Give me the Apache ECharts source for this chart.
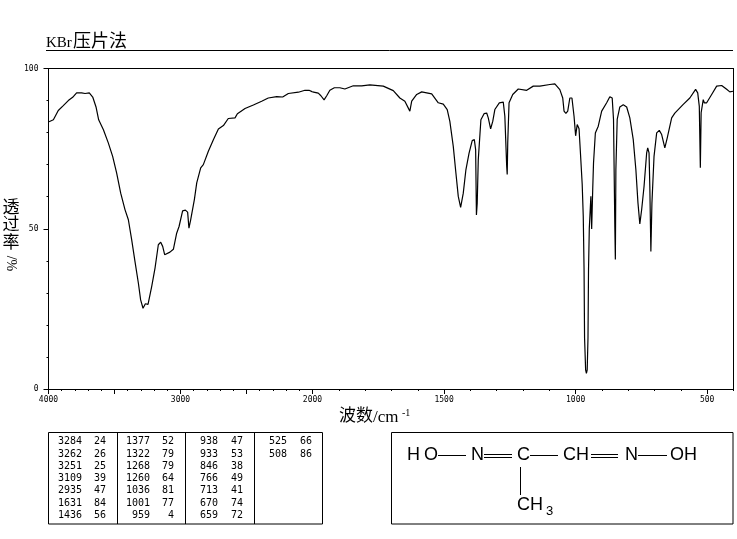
<!DOCTYPE html>
<html>
<head>
<meta charset="utf-8">
<title>KBr</title>
<script src="https://cdn.jsdelivr.net/npm/echarts@6/dist/echarts.min.js"></script>
<style>
html,body{margin:0;padding:0;background:#fff;}
#irChart{width:737px;height:539px;}
</style>
</head>
<body>
<div id="irChart"></div>
<script>
// the spectrum scale changes at 2000 cm-1, so high and low parts are kept apart
var highWave = [3996,3963,3926,3888,3850,3817,3787,3749,3723,3691,3665,3640,3620,3584,3547,3514,3484,3453,3420,3395,3370,3345,3319,3302,3284,3266,3246,3218,3193,3168,3150,3135,3120,3105,3080,3054,3029,3011,2984,2963,2946,2936,2923,2895,2877,2847,2827,2789,2751,2713,2675,2638,2587,2569,2511,2448,2385,2335,2271,2226,2183,2107,2057,2026,2000];
var highTrans = [83.4,84,86.9,88.4,90,91,92.4,92.4,92.2,92.4,91.1,88,84,80.9,76.8,72.6,67.4,61.1,55.9,52.8,46.6,39.8,33,27.8,25.2,26.6,26.4,32,37.7,45,45.8,44.5,41.9,41.9,42.7,43.6,48.6,50.7,55.6,55.8,55.2,50.2,52.8,59.1,64.3,69,70,74.2,77.8,81.1,82.2,84.4,84.6,85.9,87.5,88.6,89.8,90.8,91.2,91.1,92.2,92.6,93.2,93.2,92.7];
var lowWave = [2000,1997,1978,1968,1956,1946,1934,1917,1896,1877,1845,1813,1782,1731,1693,1668,1649,1630,1623,1604,1585,1547,1522,1503,1488,1478,1465,1455,1446,1437,1427,1417,1405,1393,1385,1380,1377,1374,1370,1360,1348,1338,1332,1323,1315,1307,1290,1275,1269,1262,1260,1258,1253,1239,1218,1186,1161,1136,1098,1079,1060,1049,1044,1037,1030,1022,1014,1006,1000,994,987,981,975,971,968,966,962,959,956,953,951,948,942,939,935,932,925,914,901,882,870,861,856,851,849,847,842,832,819,806,794,781,771,763,756,749,740,730,726,721,718,714,710,702,692,682,673,661,652,635,623,591,566,544,536,530,526,523,515,511,502,483,464,445,426,414,402];
var lowTrans = [92.7,92.2,92.3,91.5,90.2,91.5,93.2,94,94,93.6,94.6,94.6,94.9,94.5,93.1,90.8,89.8,86.7,89.8,91.9,92.7,92.1,89.3,88.9,87.2,83.5,75.7,67.4,60.1,56.7,61.1,68.4,73.6,77.5,77.8,74.7,54.3,58,71.5,84,85.9,86.1,84.6,81.2,83.5,87.2,89.3,89.5,85.1,69.5,66.9,76.8,89.3,91.9,93.6,93.2,94.5,94.5,95,95.2,93.4,90.8,86.7,86,86.7,90.8,90.8,85.1,79,82.5,81.2,72.6,63.8,53.9,37.7,15.9,6,4.9,6,15.9,37.2,50.2,60.1,49.9,62.4,70.5,79.9,82,86.7,89.3,91.2,90.8,84.1,50.7,40.4,68.4,84.1,88,88.7,88,84.6,77.8,68.4,58,51.5,56,63.2,73.7,75.2,73.7,63.2,42.9,58,72.6,79.9,80.7,79.4,75.2,78.3,84.6,86.1,88.8,90.8,93.5,92.4,88.2,69,86.2,90.3,89.3,89.3,91.9,94.5,94.7,93.5,92.7,92.9];

var highLabels = [4000,3000,2000];
var lowLabels = [1500,1000,500];
var highMajor = [4000,3500,3000,2500,2000];
var lowMajor = [2000,1500,1000,500];
var yLabels = [0,50,100];

var peakWave = [3284,3262,3251,3109,2935,1631,1436,1377,1322,1268,1260,1036,1001,959,938,933,846,766,713,670,659,525,508];
var peakTrans = [24,26,25,39,47,84,56,52,79,79,64,81,77,4,47,53,38,49,41,74,72,66,86];

var numFont = '"DejaVu Sans Mono",monospace';
var cjkFont = '"Liberation Serif","Noto Sans CJK SC",serif';
var structFont = '"Liberation Sans",sans-serif';

var grids = [
    {left:48.5, top:68.5, width:264, height:320.5},
    {left:312.5, top:68.5, width:421, height:320.5}
];

function plainNumber(v) {
    return String(v);
}
function minorX(gridIndex, min, max) {
    return {
        type:'value', gridIndex:gridIndex, min:min, max:max, inverse:true, interval:100, position:'bottom',
        axisLine:{onZero:false, lineStyle:{color:'#000', width:1}},
        axisTick:{show:true, length:2, lineStyle:{color:'#000'}},
        axisLabel:{show:false}, splitLine:{show:false}
    };
}
function majorX(gridIndex, min, max, ticks, labels) {
    return {
        type:'value', gridIndex:gridIndex, min:min, max:max, inverse:true, position:'bottom',
        axisLine:{onZero:false, lineStyle:{color:'#000', width:1}},
        axisTick:{show:true, length:5, customValues:ticks, lineStyle:{color:'#000'}},
        axisLabel:{show:true, customValues:labels, margin:7, color:'#000', fontFamily:numFont, fontSize:8,
            formatter:plainNumber, showMinLabel:true, showMaxLabel:true, hideOverlap:false},
        splitLine:{show:false}
    };
}
function topX(gridIndex, min, max) {
    return {
        type:'value', gridIndex:gridIndex, min:min, max:max, inverse:true, position:'top',
        axisLine:{onZero:false, lineStyle:{color:'#000', width:1}},
        axisTick:{show:false}, axisLabel:{show:false}, splitLine:{show:false}
    };
}

var graphics = [];
function addText(x, y, text, size, font, align) {
    graphics.push({type:'text', x:x, y:y, silent:true, style:{text:text, fontSize:size, fontFamily:font,
        fill:'#000', align:align || 'left', verticalAlign:'middle'}});
}
function addLine(x1, y1, x2, y2) {
    graphics.push({type:'line', silent:true, shape:{x1:x1, y1:y1, x2:x2, y2:y2}, style:{stroke:'#000', lineWidth:1}});
}
function addBox(x, y, w, h) {
    graphics.push({type:'rect', silent:true, shape:{x:x, y:y, width:w, height:h}, style:{fill:'none', stroke:'#000', lineWidth:1}});
}

// title
addText(46, 43, 'KBr', 15, '"Liberation Serif",serif');
addText(73, 42, '压片法', 18, cjkFont);
addLine(46, 50.5, 733, 50.5);

// axis names
addText(339, 417, '波数', 17, cjkFont);
addText(373, 418, '/cm', 17, '"Liberation Serif",serif');
addText(402, 413, '-1', 10, '"Liberation Serif",serif');
addText(11, 209, '透', 17, cjkFont, 'center');
addText(11, 226, '过', 17, cjkFont, 'center');
addText(11, 244, '率', 17, cjkFont, 'center');
graphics.push({type:'text', x:11, y:263.5, rotation:-Math.PI / 2, silent:true,
    style:{text:'/%', fontSize:14, fontFamily:'"Liberation Serif",serif', fill:'#000', align:'center', verticalAlign:'middle'}});

// peak table
addBox(48.5, 432.5, 274, 91.5);
addLine(117.5, 432.5, 117.5, 524);
addLine(185.5, 432.5, 185.5, 524);
addLine(254.5, 432.5, 254.5, 524);
var colWave = [82, 150, 218, 287];
var colTrans = [106, 174, 243, 312];
for (var i = 0; i < peakWave.length; i++) {
    var col = Math.floor(i / 7);
    var row = i % 7;
    addText(colWave[col], 441.7 + row * 12.3, String(peakWave[i]), 10, numFont, 'right');
    addText(colTrans[col], 441.7 + row * 12.3, String(peakTrans[i]), 10, numFont, 'right');
}

// structure
addBox(391.5, 432.5, 341.5, 91.5);
addText(407, 455, 'H', 18, structFont);
addText(424, 455, 'O', 18, structFont);
addLine(438, 455.5, 466, 455.5);
addText(471, 455, 'N', 18, structFont);
addLine(484, 454.5, 512, 454.5);
addLine(484, 457.5, 512, 457.5);
addText(517, 455, 'C', 18, structFont);
addLine(530, 455.5, 558, 455.5);
addText(563, 455, 'CH', 18, structFont);
addLine(591, 454.5, 618, 454.5);
addLine(591, 457.5, 618, 457.5);
addText(625, 455, 'N', 18, structFont);
addLine(638, 455.5, 667, 455.5);
addText(670, 455, 'OH', 18, structFont);
addLine(520.5, 467, 520.5, 495);
addText(517, 505, 'CH', 18, structFont);
addText(546, 511, '3', 13, structFont);

var irChart = echarts.init(document.getElementById('irChart'));
var irOption = {
    animation:false,
    backgroundColor:'#fff',
    grid:grids,
    xAxis:[
        minorX(0, 2000, 4000),
        majorX(0, 2000, 4000, highMajor, highLabels),
        topX(0, 2000, 4000),
        minorX(1, 400, 2000),
        majorX(1, 400, 2000, lowMajor, lowLabels),
        topX(1, 400, 2000)
    ],
    yAxis:[
        {type:'value', gridIndex:0, min:0, max:100, interval:10, position:'left',
            axisLine:{show:true, onZero:false, lineStyle:{color:'#000', width:1}},
            axisTick:{show:true, length:2, lineStyle:{color:'#000'}},
            axisLabel:{show:false}, splitLine:{show:false}},
        {type:'value', gridIndex:0, min:0, max:100, position:'left',
            axisLine:{show:true, onZero:false, lineStyle:{color:'#000', width:1}},
            axisTick:{show:true, length:5, customValues:yLabels, lineStyle:{color:'#000'}},
            axisLabel:{show:true, customValues:yLabels, margin:10, color:'#000', fontFamily:numFont, fontSize:8,
                formatter:plainNumber, showMinLabel:true, showMaxLabel:true, hideOverlap:false},
            splitLine:{show:false}},
        {type:'value', gridIndex:1, min:0, max:100, position:'right',
            axisLine:{show:true, onZero:false, lineStyle:{color:'#000', width:1}},
            axisTick:{show:false}, axisLabel:{show:false}, splitLine:{show:false}}
    ],
    series:[
        {type:'line', xAxisIndex:1, yAxisIndex:1, showSymbol:false, silent:true,
            lineStyle:{color:'#000', width:1.2},
            data:highWave.map(function(w, i){ return [w, highTrans[i]]; })},
        {type:'line', xAxisIndex:4, yAxisIndex:2, showSymbol:false, silent:true,
            lineStyle:{color:'#000', width:1.2},
            data:lowWave.map(function(w, i){ return [w, lowTrans[i]]; })}
    ],
    graphic:{elements:graphics}
};
irChart.setOption(irOption);
</script>
</body>
</html>
